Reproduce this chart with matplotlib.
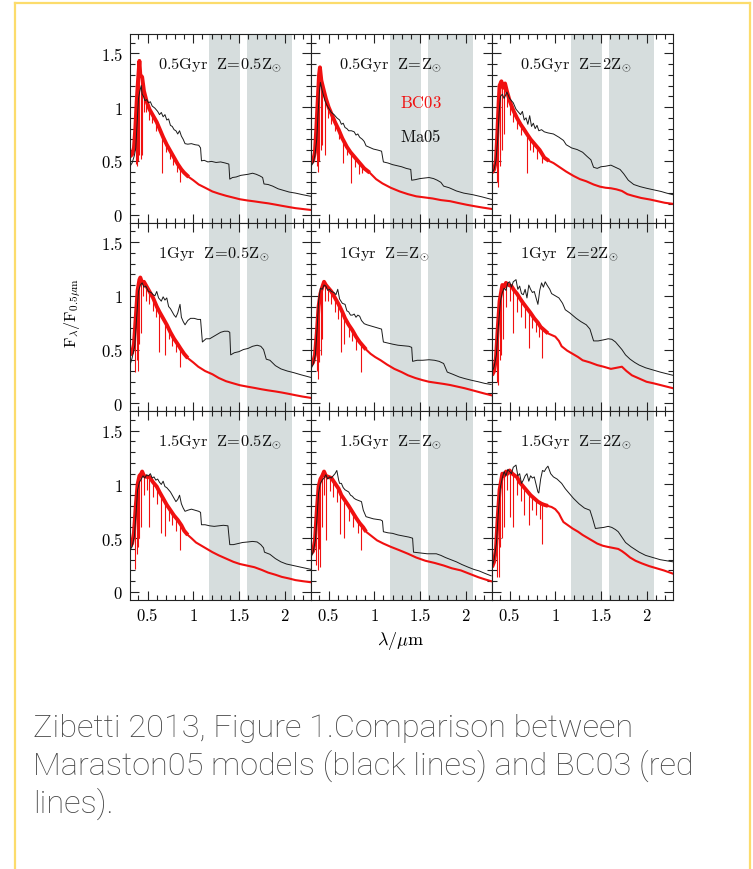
import numpy as np
import matplotlib.pyplot as plt
from matplotlib.lines import Line2D
from matplotlib.ticker import MultipleLocator, FuncFormatter

plt.rcParams['mathtext.fontset'] = 'cm'
plt.rcParams['font.family'] = 'DejaVu Serif'

# panel titles
ages = ['0.5Gyr', '1Gyr', '1.5Gyr']
metals = ['0.5Z_{\\odot}', 'Z_{\\odot}', '2Z_{\\odot}']

# gray wavelength windows (micron)
bands = [(1.175, 1.515), (1.59, 2.085)]

# ---- Maraston05 (black) spectra, (lambda, F) ----
ma05_p1 = [(0.307,0.45),(0.33,0.48),(0.355,0.55),(0.37,0.62),(0.385,0.85),(0.40,1.08),(0.415,1.15),(0.43,1.20),
           (0.44,1.12),(0.455,1.10),(0.47,1.06),(0.49,1.07),(0.51,1.04),(0.53,1.05),(0.55,1.01),(0.58,0.99),
           (0.61,0.96),(0.63,0.93),(0.65,0.95),(0.67,0.91),(0.69,0.93),(0.71,0.88),(0.73,0.89),(0.75,0.83),
           (0.77,0.82),(0.79,0.79),(0.81,0.78),(0.83,0.75),(0.85,0.78),(0.87,0.73),(0.89,0.70),(0.91,0.66),
           (0.94,0.655),(0.98,0.66),(1.02,0.65),(1.06,0.645),(1.08,0.62),(1.09,0.50),(1.12,0.505),(1.16,0.49),
           (1.20,0.495),(1.25,0.485),(1.30,0.49),(1.35,0.48),(1.39,0.47),(1.40,0.33),(1.43,0.345),(1.47,0.35),
           (1.52,0.365),(1.56,0.37),(1.60,0.375),(1.65,0.385),(1.69,0.375),(1.73,0.36),(1.76,0.345),(1.775,0.285),
           (1.82,0.28),(1.87,0.265),(1.93,0.24),(1.99,0.225),(2.05,0.21),(2.12,0.20),(2.20,0.185),(2.29,0.17)]
ma05_p2 = [(0.307,0.45),(0.33,0.48),(0.35,0.55),(0.37,0.70),(0.385,0.95),(0.40,1.15),(0.41,1.23),(0.425,1.17),
           (0.44,1.12),(0.46,1.06),(0.48,1.02),(0.50,0.99),(0.53,0.95),(0.56,0.93),(0.59,0.90),(0.62,0.88),
           (0.64,0.84),(0.66,0.85),(0.68,0.81),(0.70,0.80),(0.72,0.78),(0.75,0.78),(0.78,0.77),(0.80,0.74),
           (0.82,0.75),(0.84,0.72),(0.87,0.70),(0.89,0.68),(0.91,0.64),(0.95,0.625),(0.99,0.61),(1.04,0.60),
           (1.08,0.59),(1.10,0.49),(1.15,0.48),(1.20,0.465),(1.25,0.455),(1.30,0.445),(1.35,0.43),(1.40,0.42),
           (1.41,0.32),(1.45,0.325),(1.50,0.335),(1.55,0.34),(1.60,0.345),(1.65,0.335),(1.69,0.32),(1.73,0.30),
           (1.76,0.265),(1.82,0.25),(1.90,0.22),(1.98,0.20),(2.08,0.185),(2.18,0.165),(2.29,0.14)]
ma05_p3 = [(0.307,0.39),(0.33,0.42),(0.35,0.50),(0.37,0.70),(0.385,0.95),(0.40,1.10),(0.42,1.12),(0.44,1.08),
           (0.47,1.14),(0.50,1.08),(0.54,1.04),(0.57,0.98),(0.60,0.95),(0.62,0.93),(0.64,0.96),(0.66,0.88),
           (0.68,0.90),(0.70,0.84),(0.72,0.92),(0.74,0.82),(0.76,0.85),(0.78,0.80),(0.80,0.83),(0.82,0.78),
           (0.85,0.79),(0.88,0.77),(0.92,0.76),(0.98,0.75),(1.04,0.72),(1.09,0.69),(1.12,0.65),(1.18,0.62),
           (1.24,0.605),(1.30,0.58),(1.35,0.54),(1.39,0.51),(1.42,0.44),(1.46,0.43),(1.50,0.445),(1.55,0.45),
           (1.61,0.46),(1.66,0.44),(1.71,0.42),(1.75,0.38),(1.80,0.32),(1.86,0.28),(1.93,0.26),(2.00,0.245),
           (2.08,0.23),(2.16,0.215),(2.22,0.20),(2.29,0.185)]
ma05_p4 = [(0.307,0.355),(0.33,0.42),(0.36,0.54),(0.38,0.80),(0.40,1.04),(0.42,1.10),(0.44,1.12),(0.46,1.08),
           (0.48,1.09),(0.51,1.04),(0.54,1.03),(0.56,1.01),(0.58,1.00),(0.60,1.04),(0.62,0.98),(0.65,0.95),
           (0.67,0.99),(0.69,0.96),(0.71,0.98),(0.73,0.90),(0.75,0.88),(0.77,0.85),(0.79,0.82),(0.81,0.80),
           (0.83,0.84),(0.855,0.92),(0.87,0.80),(0.89,0.76),(0.91,0.73),(0.94,0.77),(0.97,0.79),(1.01,0.79),
           (1.05,0.78),(1.08,0.78),(1.10,0.57),(1.14,0.60),(1.18,0.60),(1.22,0.62),(1.26,0.64),(1.30,0.66),
           (1.34,0.67),(1.38,0.67),(1.40,0.66),(1.41,0.45),(1.45,0.47),(1.50,0.48),(1.55,0.50),(1.60,0.51),
           (1.65,0.53),(1.70,0.54),(1.74,0.53),(1.77,0.50),(1.80,0.41),(1.84,0.40),(1.90,0.35),(1.96,0.32),
           (2.03,0.30),(2.10,0.285),(2.18,0.265),(2.29,0.24)]
ma05_p5 = [(0.307,0.32),(0.33,0.36),(0.355,0.45),(0.375,0.70),(0.39,0.95),(0.41,1.07),(0.43,1.06),(0.45,1.10),
           (0.47,1.09),(0.49,1.05),(0.51,1.06),(0.53,1.04),(0.56,1.03),(0.58,1.01),(0.60,1.06),(0.62,0.97),
           (0.65,0.93),(0.68,0.92),(0.70,0.86),(0.72,0.85),(0.74,0.82),(0.76,0.82),(0.78,0.83),(0.80,0.80),
           (0.82,0.82),(0.84,0.81),(0.86,0.77),(0.89,0.74),(0.92,0.73),(0.96,0.72),(1.00,0.71),(1.04,0.70),
           (1.08,0.69),(1.10,0.57),(1.15,0.56),(1.20,0.55),(1.26,0.54),(1.32,0.535),(1.38,0.53),(1.41,0.52),
           (1.42,0.39),(1.47,0.40),(1.53,0.40),(1.60,0.405),(1.66,0.40),(1.71,0.39),(1.76,0.37),(1.80,0.29),
           (1.86,0.27),(1.93,0.245),(1.99,0.23),(2.06,0.215),(2.14,0.20),(2.21,0.185),(2.28,0.175)]
ma05_p6 = [(0.307,0.29),(0.33,0.34),(0.355,0.45),(0.375,0.70),(0.40,0.95),(0.42,1.03),(0.44,1.07),(0.46,1.05),
           (0.48,1.12),(0.50,1.13),(0.52,1.08),(0.54,1.13),(0.57,1.15),(0.59,1.06),(0.61,1.09),(0.63,1.02),
           (0.65,1.01),(0.67,1.06),(0.69,0.98),(0.71,1.10),(0.73,1.06),(0.75,1.03),(0.77,1.04),(0.79,0.98),
           (0.81,0.92),(0.83,1.05),(0.85,1.12),(0.87,1.08),(0.89,1.13),(0.91,1.10),(0.94,1.06),(0.96,1.02),
           (1.00,1.00),(1.04,0.98),(1.08,0.93),(1.11,0.87),(1.16,0.84),(1.23,0.79),(1.28,0.76),(1.34,0.73),
           (1.38,0.69),(1.42,0.58),(1.47,0.58),(1.53,0.59),(1.58,0.60),(1.62,0.595),(1.66,0.57),(1.69,0.54),
           (1.73,0.50),(1.77,0.45),(1.82,0.41),(1.87,0.38),(1.92,0.355),(1.99,0.33),(2.07,0.31),(2.15,0.29),
           (2.22,0.275),(2.29,0.26)]
ma05_p7 = [(0.307,0.39),(0.33,0.42),(0.355,0.52),(0.375,0.75),(0.39,0.95),(0.41,1.02),(0.43,1.05),(0.45,1.08),
           (0.47,1.06),(0.49,1.09),(0.51,1.08),(0.53,1.10),(0.55,1.06),(0.57,1.07),(0.59,1.04),(0.61,1.05),
           (0.63,1.02),(0.65,1.00),(0.67,1.03),(0.69,0.98),(0.71,0.97),(0.73,0.95),(0.75,0.93),(0.77,0.90),
           (0.79,0.87),(0.81,0.84),(0.83,0.86),(0.85,0.90),(0.87,0.82),(0.89,0.78),(0.91,0.75),(0.94,0.76),
           (0.98,0.77),(1.02,0.76),(1.06,0.75),(1.08,0.74),(1.09,0.625),(1.13,0.625),(1.18,0.615),(1.23,0.61),
           (1.28,0.615),(1.33,0.62),(1.38,0.615),(1.40,0.44),(1.44,0.44),(1.49,0.45),(1.54,0.46),(1.60,0.465),
           (1.65,0.47),(1.70,0.465),(1.74,0.44),(1.77,0.41),(1.78,0.37),(1.84,0.35),(1.90,0.31),(1.96,0.28),
           (2.02,0.26),(2.10,0.245),(2.18,0.23),(2.29,0.21)]
ma05_p8 = [(0.307,0.32),(0.33,0.37),(0.355,0.48),(0.375,0.72),(0.39,0.92),(0.41,1.01),(0.43,1.04),(0.45,1.06),
           (0.47,1.09),(0.49,1.05),(0.51,1.07),(0.53,1.06),(0.55,1.08),(0.57,1.10),(0.59,1.13),(0.61,1.04),
           (0.62,1.01),(0.64,1.01),(0.66,0.97),(0.68,0.95),(0.70,0.94),(0.72,0.93),(0.74,0.90),(0.76,0.89),
           (0.78,0.87),(0.80,0.86),(0.83,0.85),(0.86,0.84),(0.88,0.76),(0.91,0.70),(0.95,0.69),(0.99,0.68),
           (1.03,0.675),(1.07,0.67),(1.09,0.66),(1.10,0.56),(1.15,0.55),(1.20,0.545),(1.26,0.53),(1.32,0.52),
           (1.38,0.51),(1.42,0.50),(1.43,0.37),(1.48,0.365),(1.53,0.36),(1.58,0.355),(1.63,0.355),(1.68,0.355),
           (1.73,0.34),(1.78,0.32),(1.84,0.30),(1.90,0.28),(1.96,0.255),(2.03,0.23),(2.09,0.21),(2.15,0.195),
           (2.22,0.17),(2.28,0.15)]
ma05_p9 = [(0.307,0.23),(0.33,0.30),(0.355,0.45),(0.375,0.72),(0.40,0.98),(0.42,1.06),(0.44,1.12),(0.46,1.08),
           (0.48,1.14),(0.50,1.12),(0.52,1.10),(0.54,1.16),(0.57,1.18),(0.59,1.08),(0.61,1.10),(0.63,1.01),
           (0.65,1.04),(0.67,1.08),(0.69,1.10),(0.71,1.03),(0.73,1.08),(0.75,1.06),(0.77,1.07),(0.79,1.00),
           (0.81,0.93),(0.82,0.92),(0.84,1.05),(0.86,1.13),(0.88,1.12),(0.90,1.15),(0.92,1.17),(0.95,1.10),
           (0.98,1.07),(1.02,1.05),(1.07,1.01),(1.11,0.96),(1.15,0.92),(1.20,0.87),(1.26,0.82),(1.32,0.78),
           (1.38,0.76),(1.41,0.68),(1.44,0.59),(1.48,0.595),(1.53,0.60),(1.58,0.61),(1.62,0.60),(1.66,0.58),
           (1.69,0.56),(1.73,0.51),(1.77,0.46),(1.83,0.42),(1.92,0.37),(1.99,0.34),(2.07,0.32),(2.15,0.30),
           (2.22,0.29),(2.29,0.28)]

# ---- BC03 (red) spectra ----
bc03_p1 = [(0.307,0.54),(0.33,0.56),(0.35,0.62),(0.365,0.80),(0.38,1.05),(0.395,1.25),(0.41,1.43),(0.42,1.30),
           (0.44,1.28),(0.46,1.15),(0.49,1.05),(0.52,0.98),(0.56,0.92),(0.60,0.86),(0.64,0.78),(0.67,0.72),
           (0.71,0.65),(0.75,0.59),(0.79,0.53),(0.83,0.47),(0.87,0.42),(0.90,0.39),(0.95,0.35),(1.00,0.32),
           (1.06,0.28),(1.13,0.25),(1.21,0.215),(1.28,0.195),(1.36,0.175),(1.44,0.158),(1.51,0.143),(1.59,0.132),
           (1.67,0.123),(1.75,0.113),(1.82,0.105),(1.90,0.093),(1.97,0.082),(2.05,0.07),(2.12,0.06),(2.20,0.052),
           (2.29,0.043)]
bc03_p2 = [(0.307,0.48),(0.33,0.50),(0.35,0.58),(0.365,0.80),(0.38,1.05),(0.395,1.30),(0.405,1.37),(0.42,1.25),
           (0.44,1.18),(0.47,1.08),(0.50,1.00),(0.53,0.94),(0.57,0.86),(0.61,0.79),(0.65,0.71),(0.70,0.63),
           (0.74,0.58),(0.79,0.53),(0.84,0.48),(0.89,0.43),(0.95,0.39),(1.02,0.33),(1.09,0.29),(1.18,0.25),
           (1.28,0.215),(1.37,0.19),(1.46,0.17),(1.55,0.16),(1.64,0.15),(1.73,0.135),(1.83,0.125),(1.92,0.108),
           (2.01,0.092),(2.10,0.078),(2.19,0.065),(2.29,0.052)]
bc03_p3 = [(0.307,0.39),(0.33,0.42),(0.35,0.50),(0.365,0.75),(0.38,1.05),(0.39,1.20),(0.41,1.24),(0.43,1.18),
           (0.45,1.22),(0.47,1.15),(0.50,1.06),(0.54,0.97),(0.58,0.90),(0.62,0.84),(0.66,0.79),(0.69,0.75),
           (0.73,0.70),(0.78,0.65),(0.83,0.60),(0.88,0.53),(0.93,0.50),(0.98,0.48),(1.05,0.44),(1.12,0.40),
           (1.20,0.36),(1.27,0.33),(1.34,0.31),(1.42,0.28),(1.49,0.26),(1.55,0.25),(1.61,0.245),(1.67,0.235),
           (1.73,0.22),(1.79,0.19),(1.85,0.175),(1.94,0.155),(2.04,0.14),(2.12,0.125),(2.20,0.11),(2.29,0.10)]
bc03_p4 = [(0.307,0.45),(0.33,0.47),(0.35,0.55),(0.37,0.80),(0.39,1.05),(0.41,1.15),(0.42,1.17),(0.44,1.12),
           (0.46,1.13),(0.48,1.10),(0.52,1.04),(0.56,0.98),(0.60,0.90),(0.63,0.85),(0.67,0.79),(0.71,0.73),
           (0.75,0.66),(0.79,0.60),(0.83,0.55),(0.86,0.51),(0.90,0.46),(0.94,0.42),(1.00,0.38),(1.055,0.34),
           (1.13,0.30),(1.21,0.27),(1.28,0.235),(1.36,0.205),(1.44,0.185),(1.51,0.168),(1.59,0.155),(1.67,0.143),
           (1.75,0.13),(1.82,0.12),(1.90,0.11),(1.97,0.10),(2.05,0.087),(2.12,0.075),(2.20,0.062),(2.29,0.05)]
bc03_p5 = [(0.307,0.355),(0.33,0.38),(0.35,0.45),(0.37,0.65),(0.39,0.90),(0.41,1.02),(0.43,1.08),(0.45,1.13),
           (0.47,1.10),(0.50,1.07),(0.53,1.04),(0.57,0.98),(0.61,0.92),(0.65,0.85),(0.68,0.79),(0.72,0.73),
           (0.76,0.68),(0.80,0.62),(0.84,0.57),(0.88,0.53),(0.91,0.50),(0.96,0.46),(1.01,0.43),(1.07,0.40),
           (1.14,0.36),(1.22,0.32),(1.30,0.29),(1.37,0.26),(1.45,0.235),(1.53,0.215),(1.60,0.20),(1.68,0.19),
           (1.76,0.18),(1.83,0.17),(1.91,0.155),(1.99,0.14),(2.07,0.122),(2.14,0.106),(2.21,0.09),(2.28,0.075)]
bc03_p6 = [(0.307,0.26),(0.33,0.30),(0.35,0.42),(0.37,0.70),(0.39,0.95),(0.42,1.10),(0.44,1.08),(0.46,1.12),
           (0.49,1.10),(0.52,1.09),(0.55,1.05),(0.58,1.02),(0.61,0.98),(0.65,0.93),(0.69,0.885),(0.73,0.84),
           (0.77,0.79),(0.81,0.75),(0.84,0.71),(0.88,0.68),(0.92,0.65),(0.96,0.635),(1.00,0.62),(1.04,0.58),
           (1.07,0.53),(1.13,0.49),(1.19,0.46),(1.25,0.43),(1.30,0.40),(1.38,0.38),(1.46,0.355),(1.53,0.34),
           (1.61,0.32),(1.67,0.33),(1.73,0.34),(1.78,0.30),(1.84,0.26),(1.92,0.23),(2.00,0.20),(2.08,0.185),
           (2.15,0.17),(2.22,0.155),(2.29,0.14)]
bc03_p7 = [(0.307,0.42),(0.33,0.45),(0.35,0.55),(0.37,0.80),(0.39,1.00),(0.41,1.08),(0.43,1.10),(0.44,1.12),
           (0.46,1.08),(0.49,1.07),(0.52,1.07),(0.56,1.02),(0.60,0.98),(0.63,0.93),(0.67,0.87),(0.71,0.81),
           (0.75,0.76),(0.79,0.71),(0.83,0.67),(0.87,0.62),(0.90,0.57),(0.94,0.53),(0.98,0.50),(1.03,0.46),
           (1.09,0.43),(1.15,0.40),(1.21,0.37),(1.28,0.34),(1.36,0.31),(1.44,0.28),(1.51,0.26),(1.59,0.245),
           (1.67,0.23),(1.75,0.205),(1.82,0.18),(1.90,0.16),(1.97,0.14),(2.05,0.125),(2.12,0.11),(2.20,0.10),
           (2.29,0.09)]
bc03_p8 = [(0.307,0.355),(0.33,0.38),(0.35,0.48),(0.37,0.75),(0.39,0.98),(0.41,1.05),(0.43,1.08),(0.45,1.12),
           (0.47,1.08),(0.50,1.07),(0.53,1.06),(0.57,1.01),(0.61,0.96),(0.64,0.90),(0.68,0.85),(0.72,0.80),
           (0.76,0.745),(0.80,0.69),(0.84,0.64),(0.88,0.60),(0.91,0.56),(0.97,0.52),(1.03,0.48),(1.10,0.45),
           (1.18,0.42),(1.27,0.39),(1.37,0.355),(1.46,0.32),(1.56,0.29),(1.66,0.27),(1.76,0.246),(1.85,0.22),
           (1.95,0.20),(2.04,0.17),(2.14,0.137),(2.22,0.115),(2.28,0.10)]
bc03_p9 = [(0.307,0.23),(0.33,0.28),(0.35,0.40),(0.37,0.70),(0.39,0.95),(0.42,1.10),(0.44,1.08),(0.46,1.12),
           (0.48,1.10),(0.50,1.13),(0.53,1.10),(0.56,1.08),(0.58,1.07),(0.61,1.02),(0.65,0.98),(0.69,0.94),
           (0.73,0.90),(0.77,0.87),(0.81,0.84),(0.85,0.82),(0.88,0.81),(0.92,0.80),(0.96,0.79),(1.00,0.77),
           (1.04,0.73),(1.07,0.68),(1.09,0.65),(1.14,0.62),(1.19,0.59),(1.25,0.56),(1.30,0.53),(1.38,0.49),
           (1.46,0.45),(1.52,0.43),(1.57,0.42),(1.63,0.41),(1.69,0.40),(1.73,0.38),(1.77,0.355),(1.82,0.32),
           (1.88,0.29),(1.95,0.265),(2.03,0.24),(2.11,0.22),(2.19,0.20),(2.29,0.17)]

# absorption lines in the BC03 spectra: (lambda, top, bottom)
bc03_lines_p1 = [(0.37,0.85,0.47),(0.385,1.1,0.45),(0.40,1.30,0.50),(0.41,1.38,0.55),(0.425,1.30,0.52),
                 (0.44,1.26,0.55),(0.46,1.15,0.95),(0.48,1.08,0.95),(0.51,1.00,0.88),(0.55,0.93,0.85),
                 (0.59,0.87,0.78),(0.656,0.74,0.39),(0.70,0.66,0.58),(0.74,0.60,0.52),(0.78,0.55,0.46),
                 (0.82,0.48,0.40),(0.855,0.44,0.30)]
bc03_lines_p2 = [(0.37,0.85,0.45),(0.385,1.1,0.40),(0.40,1.32,0.50),(0.415,1.25,0.60),(0.43,1.2,0.65),
                 (0.46,1.1,0.55),(0.49,1.02,0.90),(0.53,0.94,0.84),(0.57,0.86,0.78),(0.61,0.79,0.70),
                 (0.66,0.70,0.48),(0.70,0.63,0.55),(0.75,0.58,0.29),(0.79,0.53,0.44),(0.83,0.49,0.38),
                 (0.87,0.45,0.39)]
bc03_lines_p3 = [(0.36,0.7,0.30),(0.375,0.95,0.26),(0.39,1.15,0.45),(0.40,1.2,0.55),(0.42,1.2,0.60),
                 (0.44,1.18,0.75),(0.47,1.15,1.0),(0.50,1.06,0.93),(0.54,0.97,0.86),(0.58,0.9,0.80),
                 (0.62,0.84,0.74),(0.69,0.75,0.39),(0.72,0.71,0.60),(0.76,0.67,0.58),(0.80,0.63,0.52),
                 (0.86,0.56,0.48)]
bc03_lines_p4 = [(0.365,0.75,0.29),(0.38,0.95,0.40),(0.395,1.05,0.30),(0.41,1.12,0.55),(0.425,1.15,0.65),
                 (0.45,1.12,1.0),(0.48,1.1,0.95),(0.52,1.04,0.92),(0.56,0.98,0.86),(0.59,0.92,0.80),
                 (0.63,0.85,0.48),(0.69,0.76,0.45),(0.73,0.70,0.60),(0.77,0.63,0.53),(0.81,0.58,0.48),
                 (0.86,0.51,0.34)]
bc03_lines_p5 = [(0.37,0.65,0.30),(0.385,0.85,0.23),(0.40,0.98,0.38),(0.415,1.05,0.45),(0.43,1.08,0.60),
                 (0.46,1.1,0.95),(0.49,1.08,0.95),(0.53,1.04,0.92),(0.57,0.98,0.85),(0.60,0.93,0.78),
                 (0.64,0.86,0.48),(0.67,0.81,0.55),(0.72,0.73,0.62),(0.76,0.68,0.58),(0.80,0.62,0.50),
                 (0.86,0.55,0.29)]
bc03_lines_p6 = [(0.36,0.55,0.20),(0.375,0.80,0.17),(0.39,0.95,0.40),(0.41,1.05,0.45),(0.43,1.08,0.60),
                 (0.46,1.1,0.90),(0.50,1.1,0.95),(0.54,1.05,0.65),(0.58,1.0,0.85),(0.62,0.96,0.80),
                 (0.67,0.90,0.70),(0.71,0.86,0.51),(0.75,0.81,0.70),(0.79,0.77,0.66),(0.82,0.74,0.62),
                 (0.86,0.70,0.42)]
bc03_lines_p7 = [(0.365,0.75,0.215),(0.38,0.90,0.35),(0.395,1.0,0.42),(0.41,1.05,0.50),(0.43,1.1,0.60),
                 (0.46,1.08,0.90),(0.49,1.07,0.95),(0.52,1.06,0.60),(0.56,1.01,0.88),(0.60,0.97,0.82),
                 (0.65,0.90,0.55),(0.69,0.84,0.52),(0.73,0.78,0.66),(0.77,0.74,0.62),(0.81,0.69,0.57),
                 (0.86,0.63,0.39)]
bc03_lines_p8 = [(0.36,0.6,0.25),(0.38,0.90,0.20),(0.395,1.0,0.40),(0.41,1.05,0.23),(0.43,1.07,0.60),
                 (0.45,1.1,0.90),(0.47,1.08,0.48),(0.51,1.07,0.94),(0.55,1.03,0.88),(0.59,0.98,0.84),
                 (0.62,0.95,0.54),(0.67,0.87,0.50),(0.72,0.80,0.66),(0.77,0.73,0.60),(0.82,0.67,0.55),
                 (0.86,0.62,0.39)]
bc03_lines_p9 = [(0.36,0.55,0.14),(0.38,0.85,0.14),(0.40,1.0,0.42),(0.42,1.08,0.50),(0.44,1.08,0.60),
                 (0.47,1.1,0.95),(0.50,1.12,0.70),(0.54,1.09,0.60),(0.58,1.06,0.90),(0.62,1.01,0.85),
                 (0.66,0.97,0.72),(0.71,0.92,0.62),(0.75,0.88,0.76),(0.79,0.85,0.72),(0.83,0.83,0.68),
                 (0.86,0.82,0.45)]

ma05 = [ma05_p1, ma05_p2, ma05_p3, ma05_p4, ma05_p5, ma05_p6, ma05_p7, ma05_p8, ma05_p9]
bc03 = [bc03_p1, bc03_p2, bc03_p3, bc03_p4, bc03_p5, bc03_p6, bc03_p7, bc03_p8, bc03_p9]
bc03_lines = [bc03_lines_p1, bc03_lines_p2, bc03_lines_p3, bc03_lines_p4, bc03_lines_p5,
              bc03_lines_p6, bc03_lines_p7, bc03_lines_p8, bc03_lines_p9]

W, H = 753, 870
RED = '#f01010'
fig = plt.figure(figsize=(W / 100, H / 100), dpi=100)
gs = fig.add_gridspec(3, 3, left=130 / W, right=673 / W, top=1 - 35 / H, bottom=1 - 601 / H,
                      wspace=0, hspace=0)

fmt = FuncFormatter(lambda v, p: '$%g$' % v)

for i in range(9):
    r, c = divmod(i, 3)
    ax = fig.add_subplot(gs[r, c])
    for b0, b1 in bands:
        ax.axvspan(b0, b1, color='#d6dddd', lw=0, zorder=0)

    red = np.array(bc03[i])
    ax.plot(red[:, 0], red[:, 1], color=RED, lw=1.5, zorder=2)
    # the optical part of BC03 is noisy, so it looks thicker
    opt = red[:, 0] <= 0.95
    ax.plot(red[opt, 0], red[opt, 1], color=RED, lw=2.8, zorder=2, solid_capstyle='butt')
    lines = np.array(bc03_lines[i])
    ax.vlines(lines[:, 0], lines[:, 2], lines[:, 1], color=RED, lw=0.8, zorder=2)

    blk = np.array(ma05[i])
    ax.plot(blk[:, 0], blk[:, 1], color='#1a1a1a', lw=0.7, zorder=3)

    ax.set_xlim(0.307, 2.29)
    ax.set_ylim(-0.075, 1.68)
    ax.xaxis.set_major_locator(MultipleLocator(0.5))
    ax.xaxis.set_minor_locator(MultipleLocator(0.1))
    ax.yaxis.set_major_locator(MultipleLocator(0.5))
    ax.yaxis.set_minor_locator(MultipleLocator(0.1))
    ax.tick_params(which='both', direction='in', top=True, right=True, width=0.8, color='#222222')
    ax.tick_params(which='major', length=6.5)
    ax.tick_params(which='minor', length=3.5)
    ax.tick_params(axis='x', labelsize=12, pad=5, labelbottom=(r == 2))
    ax.tick_params(axis='y', labelsize=12, pad=5, labelleft=(c == 0))
    ax.xaxis.set_major_formatter(fmt)
    ax.yaxis.set_major_formatter(fmt)
    for s in ax.spines.values():
        s.set_linewidth(0.8)
        s.set_color('#222222')

    label = r'$\mathrm{%s}\ \ \mathrm{Z\!=\!%s}$' % (ages[r], metals[c])
    ax.text(0.61, 1.37, label, fontsize=11.8, color='#111111', ha='left', va='baseline', zorder=4)

    if i == 1:
        ax.text(1.51, 1.04, r'$\mathrm{BC03}$', fontsize=12, color=RED, ha='center', va='center')
        ax.text(1.51, 0.73, r'$\mathrm{Ma05}$', fontsize=12, color='#111111', ha='center', va='center')

fig.text(401 / W, 1 - 641 / H, r'$\lambda/\mu\mathrm{m}$', fontsize=13, ha='center', va='center')
fig.text(73 / W, 1 - 313 / H, r'$\mathrm{F}_\lambda/\mathrm{F}_{0.5\mu\mathrm{m}}$', fontsize=11.5,
         rotation=90, ha='center', va='center')

# caption
caption = ['Zibetti 2013, Figure 1.Comparison between',
           'Maraston05 models (black lines) and BC03 (red',
           'lines).']
for k, line in enumerate(caption):
    fig.text(33 / W, 1 - (737 + 38 * k) / H, line, fontsize=23.4, family='Roboto', weight='light',
             color='#454545', ha='left', va='baseline')

# yellow frame
ycol = '#fcdc6c'
fig.add_artist(Line2D([15 / W, 15 / W], [0, 1 - 4 / H], color=ycol, lw=1.6))
fig.add_artist(Line2D([750 / W, 750 / W], [0, 1 - 4 / H], color=ycol, lw=1.6))
fig.add_artist(Line2D([15 / W, 750 / W], [1 - 4 / H, 1 - 4 / H], color=ycol, lw=1.6))

fig.savefig('out.png', dpi=100)
